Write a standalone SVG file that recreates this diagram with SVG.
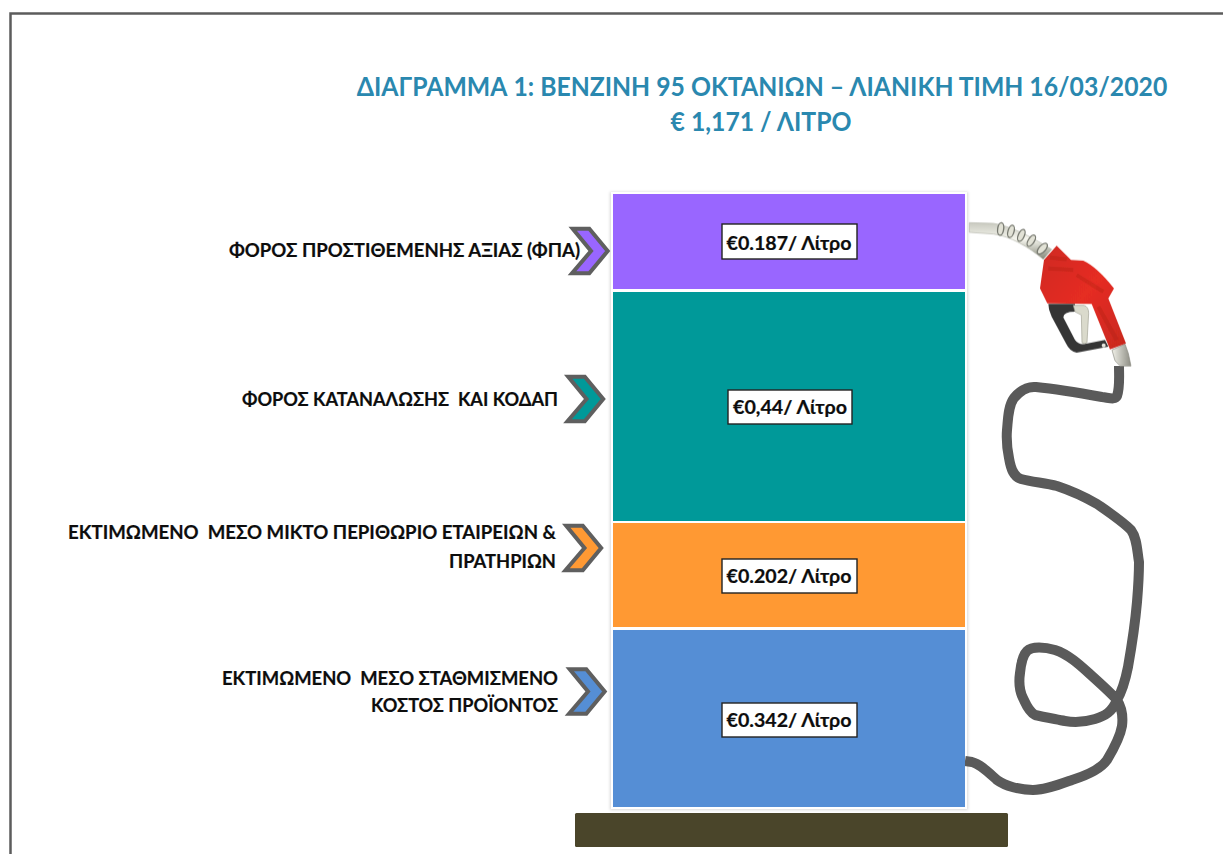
<svg xmlns="http://www.w3.org/2000/svg" width="1223" height="854" viewBox="0 0 1223 854">
<style>
.t{font-family:"Lato","Open Sans",sans-serif;font-weight:700;fill:#2a88af;font-size:27.500px;text-anchor:middle;white-space:pre}
.l{font-family:"Lato","Open Sans",sans-serif;font-weight:700;fill:#0d0d0d;font-size:19.500px;text-anchor:end;white-space:pre;stroke:#0d0d0d;stroke-width:.2}
.v{font-family:"Lato","Open Sans",sans-serif;font-weight:700;fill:#0d0d0d;font-size:19px;text-anchor:middle;stroke:#0d0d0d;stroke-width:.2}
.seg{stroke:none}
.box{fill:#fff;stroke:#222;stroke-width:1.400}
.chev{stroke:#5f5f5f;stroke-width:4;stroke-linejoin:miter}
.hose{fill:none;stroke:#5a5a5a;stroke-width:10;stroke-linecap:butt;stroke-linejoin:round}
</style>
<defs>
<polygon id="chev" points="572.7,228.7 589.3,228.7 607.7,251 589.3,273.3 572,273.3 591,251"/>
<linearGradient id="pipe" x1="0" y1="0" x2="0" y2="1"><stop offset="0" stop-color="#c9cac0"/><stop offset=".45" stop-color="#f6f6ee"/><stop offset="1" stop-color="#858779"/></linearGradient>
<linearGradient id="red" x1="0" y1="0" x2="1" y2="1"><stop offset="0" stop-color="#cf2a22"/><stop offset=".5" stop-color="#e62d22"/><stop offset="1" stop-color="#c8281f"/></linearGradient>
<linearGradient id="tip" x1="0" y1="0" x2="1" y2="0"><stop offset="0" stop-color="#f0f0e8"/><stop offset="1" stop-color="#8d8d84"/></linearGradient>
<filter id="sh" x="-5%" y="-5%" width="110%" height="110%"><feGaussianBlur stdDeviation="1.500"/></filter>
<filter id="soft" x="-5%" y="-5%" width="110%" height="110%"><feGaussianBlur stdDeviation="1.800"/></filter>
</defs>
<path d="M10.500 854V13.500H1223" fill="none" stroke="#5c5c5c" stroke-width="2.500"/>
<g id="title">
<text class="t" transform="translate(762 96) scale(.9 1)">ΔΙΑΓΡΑΜΜΑ 1: ΒΕΝΖΙΝΗ 95 ΟΚΤΑΝΙΩΝ – ΛΙΑΝΙΚΗ ΤΙΜΗ 16/03/2020</text>
<text class="t" transform="translate(761 131) scale(.9 1)">€ 1,171 / ΛΙΤΡΟ</text>
</g>
<rect x="610" y="192" width="358" height="618" fill="#d8d8d8" filter="url(#sh)"/>
<rect x="611" y="192" width="356" height="617" fill="#fff"/>
<g id="connectors">
<path class="hose" d="M1119 366C1119 378 1120 388 1117 396C1115 400 1110 398 1102 397C1080 393 1056 389 1036 387C1026 386 1019 392 1014 398C1008 406 1008 420 1007 430C1006 442 1007 448 1009 458C1011 470 1014 477 1021 479C1032 482 1046 483 1057 486C1072 491 1085 497 1097 504C1110 513 1122 521 1131 530C1137 538 1137 550 1139 562C1139 575 1138 590 1137 602C1135 625 1131 650 1128 667C1125 682 1121 693 1117 700C1112 712 1105 716 1095 719C1085 722 1076 723 1065 721C1055 719 1044 717 1035 715C1028 711 1026 704 1023 698C1019 690 1019 680 1020 673C1021 663 1023 655 1027 651C1032 646 1045 647 1055 650C1070 655 1082 667 1092 676C1102 685 1112 694 1117 700C1122 708 1123 718 1122 726C1120 738 1113 750 1107 760C1100 770 1085 776 1072 780C1058 785 1045 790 1033 790C1020 790 1005 786 997 780C988 772 980 764 972 762L965 761"/>
</g>
<g id="seg-vat"><rect class="seg" x="613" y="194" width="352" height="95" fill="#9966ff"/><rect class="box" x="722" y="224" width="135" height="35"/><text class="v" x="789" y="250" textLength="125" lengthAdjust="spacingAndGlyphs">€0.187/ Λίτρο</text></g>
<g id="seg-excise"><rect class="seg" x="613" y="292" width="352" height="229" fill="#009999"/><rect class="box" x="728" y="390" width="124" height="34"/><text class="v" x="790" y="414" textLength="114" lengthAdjust="spacingAndGlyphs">€0,44/ Λίτρο</text></g>
<g id="seg-margin"><rect class="seg" x="613" y="523" width="352" height="104" fill="#ff9933"/><rect class="box" x="722" y="559" width="135" height="34"/><text class="v" x="789" y="583" textLength="125" lengthAdjust="spacingAndGlyphs">€0.202/ Λίτρο</text></g>
<g id="seg-cost"><rect class="seg" x="613" y="630" width="352" height="177" fill="#558ed5"/><rect class="box" x="722" y="703" width="135" height="34"/><text class="v" x="789" y="727" textLength="125" lengthAdjust="spacingAndGlyphs">€0.342/ Λίτρο</text></g>
<g id="base"><rect x="575" y="813" width="433" height="34" rx="1.500" fill="#4a452a"/></g>
<g id="label-vat"><text class="l" x="580" y="257" textLength="351" lengthAdjust="spacingAndGlyphs">ΦΟΡΟΣ ΠΡΟΣΤΙΘΕΜΕΝΗΣ ΑΞΙΑΣ (ΦΠΑ)</text><use href="#chev" class="chev" fill="#9966ff"/></g>
<g id="label-excise"><text class="l" x="558" y="406" textLength="316" lengthAdjust="spacingAndGlyphs">ΦΟΡΟΣ ΚΑΤΑΝΑΛΩΣΗΣ  ΚΑΙ ΚΟΔΑΠ</text><use href="#chev" class="chev" fill="#009999" transform="translate(-4.500 148)"/></g>
<g id="label-margin"><text class="l" x="556" y="539" textLength="488" lengthAdjust="spacingAndGlyphs">ΕΚΤΙΜΩΜΕΝΟ  ΜΕΣΟ ΜΙΚΤΟ ΠΕΡΙΘΩΡΙΟ ΕΤΑΙΡΕΙΩΝ &amp;</text><text class="l" x="556" y="568" textLength="107" lengthAdjust="spacingAndGlyphs">ΠΡΑΤΗΡΙΩΝ</text><use href="#chev" class="chev" fill="#ff9933" transform="translate(-6.500 297)"/></g>
<g id="label-cost"><text class="l" x="558" y="685" textLength="336" lengthAdjust="spacingAndGlyphs">ΕΚΤΙΜΩΜΕΝΟ  ΜΕΣΟ ΣΤΑΘΜΙΣΜΕΝΟ</text><text class="l" x="558" y="712" textLength="187" lengthAdjust="spacingAndGlyphs">ΚΟΣΤΟΣ ΠΡΟΪΟΝΤΟΣ</text><use href="#chev" class="chev" fill="#558ed5" transform="translate(-3 440.500)"/></g>
<g id="nozzle" transform="translate(960 200) scale(.33333)" filter="url(#soft)">
<path d="M28 68L100 70C150 78 205 105 275 148L250 178C205 140 150 108 100 102L28 97Z" fill="url(#pipe)" stroke="#b5b6ac" stroke-width="2"/>
<g fill="#e2e2d6" stroke="#777970" stroke-width="4">
<ellipse cx="122" cy="87" rx="9" ry="19" transform="rotate(8 122 87)"/>
<ellipse cx="153" cy="94" rx="9" ry="19" transform="rotate(16 153 94)"/>
<ellipse cx="184" cy="106" rx="9" ry="19" transform="rotate(24 184 106)"/>
<ellipse cx="214" cy="122" rx="9" ry="19" transform="rotate(32 214 122)"/>
<ellipse cx="247" cy="146" rx="10" ry="20" transform="rotate(42 247 146)"/>
</g>
<path d="M265 312L345 312L345 335Q310 335 310 352L345 420Q355 435 375 432L435 420L445 440L350 458Q330 455 318 430L275 350Q265 330 265 312Z" fill="#353535"/>
<path d="M340 316L372 316Q386 320 386 340L381 428Q372 434 366 428L364 345L345 335Z" fill="#dadacc" stroke="#a2a294" stroke-width="2"/>
<circle cx="431" cy="436" r="6" fill="#e8e8e0"/>
<path d="M456 450L495 432L505 460L513 498L480 498L465 482Z" fill="url(#tip)" stroke="#8a8a80" stroke-width="2"/>
<path d="M252 180L290 137L333 180L370 182Q410 200 462 265L445 295L498 430L450 448L395 312L262 310L240 265Z" fill="url(#red)"/>
<path d="M270 172L320 178M265 205L340 210M350 225L430 275M415 320L470 420" fill="none" stroke="#a8211a" stroke-width="12" opacity=".3"/>
</g>
</svg>
